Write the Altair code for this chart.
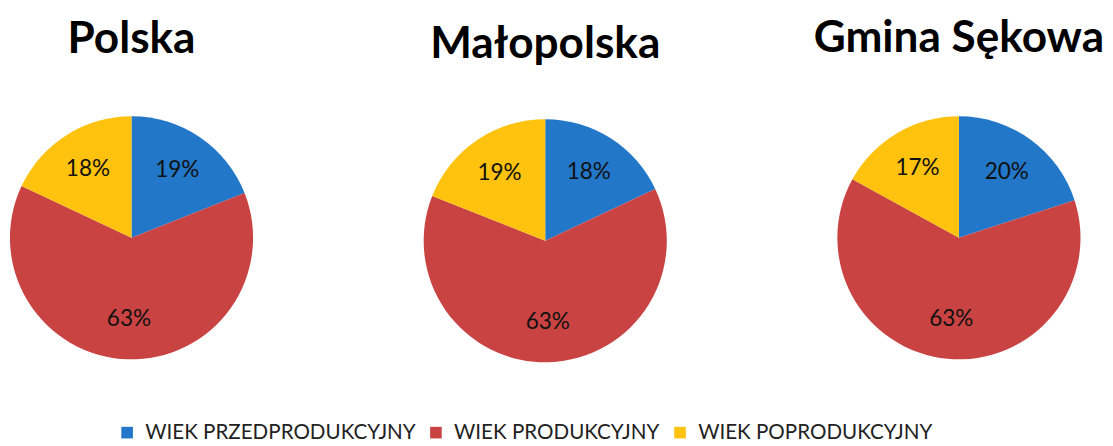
import altair as alt
import pandas as pd

regions = ["Polska", "Małopolska", "Gmina Sękowa"]
categories = ["WIEK PRZEDPRODUKCYJNY", "WIEK PRODUKCYJNY", "WIEK POPRODUKCYJNY"]
polska = [19, 63, 18]
malopolska = [18, 63, 19]
sekowa = [20, 63, 17]
colors = ["#2277C8", "#C94343", "#FFC20E"]

series = [polska, malopolska, sekowa]
title_offsets = [55, 49, 56]
heights = [250, 256, 250]

FONT = "Lato"


def panel(name, vals, off, h):
    df = pd.DataFrame({"kat": categories, "val": vals, "ord": [0, 1, 2]})
    base = alt.Chart(df).encode(
        theta=alt.Theta("val:Q", stack=True),
        order=alt.Order("ord:Q"),
    )
    arc = base.mark_arc(outerRadius=124).encode(
        color=alt.Color(
            "kat:N",
            scale=alt.Scale(domain=categories, range=colors),
            legend=alt.Legend(
                title=None,
                orient="none",
                direction="horizontal",
                legendX=111,
                legendY=313,
                labelFontSize=21,
                labelFont=FONT,
                labelColor="#222222",
                labelLimit=0,
                labelOffset=8,
                symbolType="square",
                symbolSize=140,
                symbolStrokeWidth=0,
                columnPadding=10,
                symbolOffset=0,
            ),
        )
    )
    txt = (
        base.transform_calculate(lbl="datum.val + '%'")
        .mark_text(radius=83, fontSize=23, font=FONT, color="#111111")
        .encode(text="lbl:N")
    )
    return alt.layer(arc, txt).properties(
        width=252,
        height=h,
        title=alt.TitleParams(
            name,
            fontSize=45,
            font=FONT,
            fontWeight="bold",
            anchor="middle",
            offset=off,
            color="#000000",
        ),
    )


panels = [panel(r, v, o, h) for r, v, o, h in zip(regions, series, title_offsets, heights)]

chart = (
    alt.hconcat(*panels, spacing=170, bounds="flush")
    .properties(padding={"top": 4, "left": 0, "right": 0, "bottom": 0})
    .configure_view(stroke=None)
    .configure(background="white")
)

chart.save("out.html", embed_options={"renderer": "svg", "actions": False})
